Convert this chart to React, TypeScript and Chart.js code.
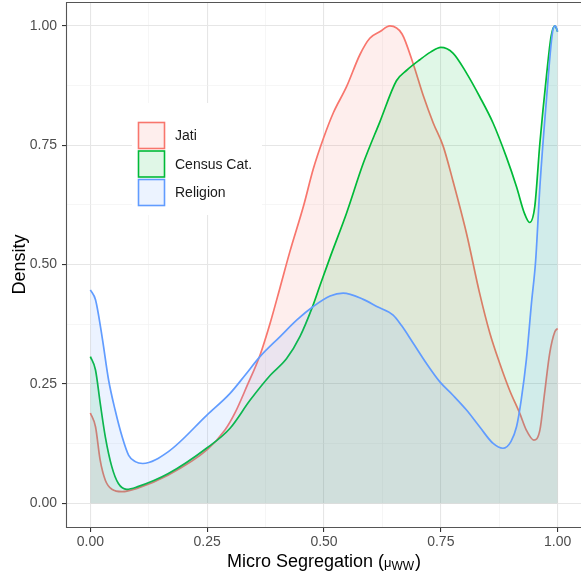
import { useEffect, useRef } from 'react';
import { Chart, registerables } from 'chart.js';

Chart.register(...registerables);

// ---- Data ----
const seriesNames = ['Jati', 'Census Cat.', 'Religion'];

const jatiX = [0, 0.011, 0.021, 0.032, 0.046, 0.068, 0.1, 0.167, 0.25, 0.288, 0.31, 0.335, 0.363, 0.385, 0.406, 0.427, 0.456, 0.477, 0.499, 0.52, 0.548, 0.577, 0.598, 0.62, 0.641, 0.667, 0.691, 0.712, 0.734, 0.755, 0.776, 0.805, 0.833, 0.855, 0.876, 0.897, 0.919, 0.933, 0.949, 0.962, 0.972, 0.983, 0.994, 1.0];
const jatiY = [0.189, 0.16, 0.09, 0.048, 0.029, 0.024, 0.031, 0.059, 0.112, 0.153, 0.19, 0.245, 0.31, 0.378, 0.452, 0.527, 0.622, 0.7, 0.765, 0.818, 0.872, 0.94, 0.974, 0.988, 1.0, 0.983, 0.92, 0.855, 0.796, 0.748, 0.675, 0.565, 0.44, 0.356, 0.293, 0.237, 0.188, 0.153, 0.132, 0.153, 0.23, 0.314, 0.359, 0.366];

const censusX = [0, 0.011, 0.021, 0.032, 0.046, 0.06, 0.078, 0.1, 0.167, 0.25, 0.299, 0.342, 0.385, 0.42, 0.449, 0.474, 0.491, 0.513, 0.548, 0.584, 0.62, 0.655, 0.677, 0.705, 0.728, 0.75, 0.776, 0.805, 0.833, 0.862, 0.89, 0.912, 0.929, 0.94, 0.951, 0.962, 0.976, 0.986, 0.994, 1.0];
const censusY = [0.307, 0.279, 0.21, 0.139, 0.076, 0.041, 0.029, 0.034, 0.062, 0.116, 0.157, 0.216, 0.268, 0.303, 0.35, 0.408, 0.455, 0.515, 0.607, 0.712, 0.8, 0.885, 0.907, 0.929, 0.945, 0.955, 0.943, 0.901, 0.852, 0.796, 0.726, 0.663, 0.607, 0.588, 0.621, 0.754, 0.894, 0.978, 1.0, 0.988];

const religionX = [0, 0.011, 0.025, 0.039, 0.053, 0.068, 0.082, 0.096, 0.112, 0.167, 0.25, 0.299, 0.331, 0.363, 0.406, 0.442, 0.477, 0.513, 0.541, 0.584, 0.613, 0.648, 0.666, 0.691, 0.719, 0.748, 0.776, 0.805, 0.833, 0.862, 0.883, 0.9, 0.912, 0.922, 0.933, 0.944, 0.953, 0.962, 0.976, 0.99, 0.995, 1.0];
const religionY = [0.447, 0.426, 0.349, 0.258, 0.195, 0.139, 0.1, 0.087, 0.083, 0.108, 0.185, 0.23, 0.268, 0.307, 0.349, 0.384, 0.412, 0.434, 0.44, 0.427, 0.412, 0.394, 0.372, 0.335, 0.293, 0.254, 0.226, 0.195, 0.16, 0.125, 0.115, 0.129, 0.16, 0.216, 0.3, 0.419, 0.509, 0.663, 0.845, 0.992, 1.0, 0.988];

const xMajorBreaks = [0, 0.25, 0.5, 0.75, 1];
const xTickLabels = ['0.00', '0.25', '0.50', '0.75', '1.00'];
const yMajorBreaks = [0, 0.25, 0.5, 0.75, 1];
const yTickLabels = ['0.00', '0.25', '0.50', '0.75', '1.00'];
const minorBreaks = [0.125, 0.375, 0.625, 0.875];

const xTitle = 'Micro Segregation (';
const xTitleSymbol = 'μ';
const xTitleSub = 'WW';
const yTitle = 'Density';

// ---- Styles ----
const FONT = "'Liberation Sans', Arial, Helvetica, sans-serif";
const lineColors = ['#F8766D', '#00BA38', '#619CFF'];
const fillColors = ['rgba(248,118,109,0.12)', 'rgba(0,186,56,0.12)', 'rgba(97,156,255,0.12)'];

const near = (a: number, b: number) => Math.abs(a - b) < 1e-6;
const majorIndex = (v: number, breaks: number[]) => breaks.findIndex((b) => near(b, v));

const decorPlugin = {
  id: 'decor',
  afterDatasetsDraw(chart: any) {
    const { ctx, chartArea: a } = chart;
    ctx.save();
    // panel border
    ctx.strokeStyle = '#555555';
    ctx.lineWidth = 1.1;
    ctx.beginPath();
    ctx.moveTo(a.right, a.top + 0.5);
    ctx.lineTo(a.left - 0.5, a.top + 0.5);
    ctx.lineTo(a.left - 0.5, a.bottom + 0.5);
    ctx.lineTo(a.right, a.bottom + 0.5);
    ctx.stroke();

    // legend
    ctx.fillStyle = '#ffffff';
    ctx.fillRect(132, 103, 130, 112);
    const boxX = 138.5;
    const boxSize = 26;
    const boxYs = [122.5, 151, 179.5];
    seriesNames.forEach((name, i) => {
      const y = boxYs[i];
      ctx.fillStyle = '#ffffff';
      ctx.fillRect(boxX, y, boxSize, boxSize);
      ctx.fillStyle = fillColors[i];
      ctx.fillRect(boxX, y, boxSize, boxSize);
      ctx.strokeStyle = lineColors[i];
      ctx.lineWidth = 1.6;
      ctx.strokeRect(boxX, y, boxSize, boxSize);
      ctx.fillStyle = '#1a1a1a';
      ctx.font = `14px ${FONT}`;
      ctx.textAlign = 'left';
      ctx.textBaseline = 'middle';
      ctx.fillText(name, 175, y + boxSize / 2 + 1);
    });
    ctx.restore();
  },
  afterDraw(chart: any) {
    const { ctx, chartArea: a } = chart;
    ctx.save();
    ctx.fillStyle = '#000000';
    ctx.textBaseline = 'alphabetic';
    ctx.textAlign = 'left';
    // x title with subscript
    ctx.font = `18px ${FONT}`;
    const w1 = ctx.measureText(xTitle).width;
    const wClose = ctx.measureText(')').width;
    ctx.font = `13px ${FONT}`;
    const wMu = ctx.measureText(xTitleSymbol).width;
    ctx.font = `12px ${FONT}`;
    const wSub = ctx.measureText(xTitleSub).width;
    const total = w1 + wMu + wSub + wClose + 1;
    let x = (a.left + a.right) / 2 - total / 2;
    const base = 567;
    ctx.font = `18px ${FONT}`;
    ctx.fillText(xTitle, x, base);
    x += w1;
    ctx.font = `13px ${FONT}`;
    ctx.fillText(xTitleSymbol, x, base);
    x += wMu;
    ctx.font = `12px ${FONT}`;
    ctx.fillText(xTitleSub, x, base + 2.5);
    x += wSub + 1;
    ctx.font = `18px ${FONT}`;
    ctx.fillText(')', x, base);

    // y title
    ctx.translate(25, (a.top + a.bottom) / 2);
    ctx.rotate(-Math.PI / 2);
    ctx.textAlign = 'center';
    ctx.font = `18px ${FONT}`;
    ctx.fillText(yTitle, 0, 0);
    ctx.restore();
  },
};

export default function App() {
  const canvasRef = useRef<HTMLCanvasElement | null>(null);

  useEffect(() => {
    if (!canvasRef.current) return;
    const allBreaks = [...xMajorBreaks, ...minorBreaks].sort((p, q) => p - q);
    const makeData = (xs: number[], ys: number[]) => xs.map((x, i) => ({ x, y: ys[i] }));
    const seriesData = [makeData(jatiX, jatiY), makeData(censusX, censusY), makeData(religionX, religionY)];

    const gridCfg = (breaks: number[]) => ({
      color: (c: any) => (majorIndex(c.tick?.value, breaks) >= 0 ? '#e6e6e6' : '#f0f0f0'),
      lineWidth: (c: any) => (majorIndex(c.tick?.value, breaks) >= 0 ? 1.1 : 0.6),
      tickColor: (c: any) => (majorIndex(c.tick?.value, breaks) >= 0 ? '#333333' : 'rgba(0,0,0,0)'),
      tickLength: 5,
      tickWidth: 1.1,
      drawTicks: true,
      drawOnChartArea: true,
    });

    const chart = new Chart(canvasRef.current, {
      type: 'line',
      data: {
        datasets: seriesNames.map((name, i) => ({
          label: name,
          data: seriesData[i],
          borderColor: lineColors[i],
          backgroundColor: fillColors[i],
          borderWidth: 1.7,
          fill: 'origin',
          pointRadius: 0,
          pointHoverRadius: 0,
          cubicInterpolationMode: 'monotone' as const,
          order: 2 - i,
        })),
      },
      options: {
        responsive: false,
        animation: false,
        events: [],
        layout: { padding: { top: 2, right: 0, bottom: 0, left: 0 }, autoPadding: false },
        plugins: {
          legend: { display: false },
          tooltip: { enabled: false },
          title: { display: false },
        },
        scales: {
          x: {
            type: 'linear',
            min: -0.05,
            max: 1.05,
            afterBuildTicks: (s: any) => {
              s.ticks = allBreaks.map((v) => ({ value: v }));
            },
            afterFit: (s: any) => {
              s.height = 52;
              s.paddingLeft = 0;
              s.paddingRight = 0;
              s.paddingTop = 0;
              s.paddingBottom = 0;
            },
            grid: gridCfg(xMajorBreaks) as any,
            border: { display: false },
            ticks: {
              autoSkip: false,
              maxRotation: 0,
              padding: 2,
              color: '#4d4d4d',
              font: { family: FONT, size: 14 },
              callback: (v: any) => {
                const k = majorIndex(Number(v), xMajorBreaks);
                return k >= 0 ? xTickLabels[k] : '';
              },
            },
          },
          y: {
            type: 'linear',
            min: -0.05,
            max: 1.05,
            afterBuildTicks: (s: any) => {
              s.ticks = allBreaks.map((v) => ({ value: v }));
            },
            afterFit: (s: any) => {
              s.width = 67;
              s.paddingLeft = 0;
              s.paddingRight = 0;
              s.paddingTop = 0;
              s.paddingBottom = 0;
            },
            grid: gridCfg(yMajorBreaks) as any,
            border: { display: false },
            ticks: {
              autoSkip: false,
              padding: 5,
              color: '#4d4d4d',
              font: { family: FONT, size: 14 },
              callback: (v: any) => {
                const k = majorIndex(Number(v), yMajorBreaks);
                return k >= 0 ? yTickLabels[k] : '';
              },
            },
          },
        },
      },
      plugins: [decorPlugin],
    });
    return () => chart.destroy();
  }, []);

  return (
    <div style={{ position: 'absolute', left: 0, top: 0, width: 581, height: 579, background: '#ffffff' }}>
      <canvas ref={canvasRef} width={581} height={579} style={{ display: 'block' }} />
    </div>
  );
}
